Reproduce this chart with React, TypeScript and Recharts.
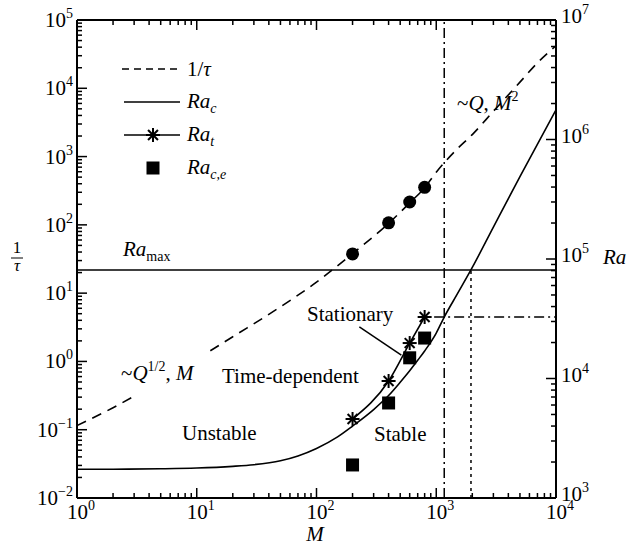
import React from 'react';
import { ComposedChart, Line, Scatter, XAxis, YAxis, ReferenceLine, Customized } from 'recharts';

// ---- data ----
const TAU_M = [1, 2, 3, 5, 10, 20, 50, 100, 200, 400, 600, 800, 1000, 1500, 2000, 3000, 5000, 7000, 10000];
const TAU_V = [0.115, 0.21, 0.31, 0.52, 1.08, 2.3, 6.3, 14.5, 38, 105, 210, 350, 590, 1300, 2100, 4600, 12300, 23600, 42000];

const DOT_M = [200, 400, 600, 800];
const DOT_V = [37.5, 107, 216, 355];

const RAC_M = [1, 2, 5, 10, 20, 30, 50, 70, 100, 150, 200, 300, 400, 500, 600, 700, 800, 1000, 1166, 1500, 2000, 3000, 5000, 10000];
const RAC_V = [1740, 1742, 1755, 1780, 1840, 1900, 2050, 2250, 2600, 3250, 4000, 5500, 7200, 9300, 11600, 14200, 17000, 24000, 32700, 51000, 85000, 185000, 490000, 1770000];

const RAT_M = [200, 400, 600, 800];
const RAT_V = [4580, 9530, 19800, 32700];

const RACE_M = [200, 400, 600, 800];
const RACE_V = [1890, 6240, 14900, 21800];

const RA_MAX = 81000;
const M_DASHDOT = 1166;
const M_DOTTED = 1950;
const RA_DASHDOT = 32700;
const M_DASHDOT_START = 960;
const ARROW = [{ x: 228, y: 27000 }, { x: 511, y: 15700 }];

const X_TICKS = [1, 2, 3, 4, 5, 6, 7, 8, 9, 10, 20, 30, 40, 50, 60, 70, 80, 90, 100, 200, 300, 400, 500, 600, 700, 800, 900, 1000, 2000, 3000, 4000, 5000, 6000, 7000, 8000, 9000, 10000];
const YL_TICKS = [0.01, 0.02, 0.03, 0.04, 0.05, 0.06, 0.07, 0.08, 0.09, 0.1, 0.2, 0.3, 0.4, 0.5, 0.6, 0.7, 0.8, 0.9, 1, 2, 3, 4, 5, 6, 7, 8, 9, 10, 20, 30, 40, 50, 60, 70, 80, 90, 100, 200, 300, 400, 500, 600, 700, 800, 900, 1000, 2000, 3000, 4000, 5000, 6000, 7000, 8000, 9000, 10000, 20000, 30000, 40000, 50000, 60000, 70000, 80000, 90000, 100000];
const YR_TICKS = [1000, 2000, 3000, 4000, 5000, 6000, 7000, 8000, 9000, 10000, 20000, 30000, 40000, 50000, 60000, 70000, 80000, 90000, 100000, 200000, 300000, 400000, 500000, 600000, 700000, 800000, 900000, 1000000, 2000000, 3000000, 4000000, 5000000, 6000000, 7000000, 8000000, 9000000, 10000000];

const zip = (ms: number[], vs: number[]) => ms.map((m, i) => ({ m, v: vs[i] }));
const tauData = zip(TAU_M, TAU_V);
const dotData = zip(DOT_M, DOT_V);
const racData = zip(RAC_M, RAC_V);
const ratData = zip(RAT_M, RAT_V);
const raceData = zip(RACE_M, RACE_V);

const FONT = "'Liberation Serif', 'DejaVu Serif', serif";
const FS = 21;
const SUB = 14;
const TS: React.CSSProperties = { fontFamily: FONT };

const isMajor = (v: number) => Math.abs(Math.log10(v) - Math.round(Math.log10(v))) < 1e-6;
const expText = (v: number) => {
  const e = Math.round(Math.log10(v));
  return e < 0 ? `\u2212${-e}` : `${e}`;
};

const Pow = ({ x, y, v, anchor }: any) => (
  <text x={x} y={y} textAnchor={anchor} style={TS} fontSize={FS} fill="#000">
    10<tspan dy={-9} fontSize={SUB}>{expText(v)}</tspan>
  </text>
);

const BottomTick = (p: any) => {
  const { x, y, payload } = p;
  const maj = isMajor(payload.value);
  return (
    <g>
      <line x1={x} x2={x} y1={y} y2={y - (maj ? 10 : 5)} stroke="#000" strokeWidth={1.5} />
      {maj && <Pow x={x + 4} y={y + 21} v={payload.value} anchor="middle" />}
    </g>
  );
};
const TopTick = (p: any) => {
  const { x, y, payload } = p;
  const maj = isMajor(payload.value);
  return <line x1={x} x2={x} y1={y} y2={y + (maj ? 10 : 5)} stroke="#000" strokeWidth={1.5} />;
};
const LeftTick = (p: any) => {
  const { x, y, payload } = p;
  const maj = isMajor(payload.value);
  return (
    <g>
      <line x1={x} x2={x + (maj ? 10 : 5)} y1={y} y2={y} stroke="#000" strokeWidth={1.5} />
      {maj && <Pow x={x - 4} y={y + 7} v={payload.value} anchor="end" />}
    </g>
  );
};
const RightTick = (p: any) => {
  const { x, y, payload } = p;
  const maj = isMajor(payload.value);
  return (
    <g>
      <line x1={x} x2={x - (maj ? 10 : 5)} y1={y} y2={y} stroke="#000" strokeWidth={1.5} />
      {maj && <Pow x={x + 5} y={y + 3} v={payload.value} anchor="start" />}
    </g>
  );
};

const Star = ({ cx, cy, r = 7 }: any) => {
  const d = r * 0.7071;
  return (
    <g stroke="#000" strokeWidth={2}>
      <line x1={cx - r} y1={cy} x2={cx + r} y2={cy} />
      <line x1={cx} y1={cy - r} x2={cx} y2={cy + r} />
      <line x1={cx - d} y1={cy - d} x2={cx + d} y2={cy + d} />
      <line x1={cx - d} y1={cy + d} x2={cx + d} y2={cy - d} />
    </g>
  );
};

const RaSub = ({ x, y, sub, subItalic = true }: any) => (
  <text x={x} y={y} style={TS} fontSize={FS} fill="#000">
    <tspan fontStyle="italic">Ra</tspan>
    <tspan dy={5} fontSize={SUB} fontStyle={subItalic ? 'italic' : 'normal'}>{sub}</tspan>
  </text>
);

const Annotations = () => (
  <g fill="#000">
    <defs>
      <mask id="tauGap" maskUnits="userSpaceOnUse" x={0} y={0} width={631} height={551}>
        <rect x={0} y={0} width={631} height={551} fill="#fff" />
        <rect x={134} y={352} width={76} height={44} fill="#000" />
      </mask>
    </defs>
    {/* legend */}
    <line x1={122} x2={178} y1={69} y2={69} stroke="#000" strokeWidth={1.5} strokeDasharray="7 5" />
    <text x={187} y={76} fontSize={FS} style={TS}>1/<tspan fontStyle="italic">τ</tspan></text>
    <line x1={124} x2={180} y1={102} y2={102} stroke="#000" strokeWidth={1.5} />
    <RaSub x={187} y={108} sub="c" />
    <line x1={124} x2={180} y1={135} y2={135} stroke="#000" strokeWidth={1.5} />
    <Star cx={153} cy={135} />
    <RaSub x={187} y={141} sub="t" />
    <rect x={146.5} y={161.5} width={13} height={13} fill="#000" />
    <RaSub x={187} y={174} sub="c,e" />

    {/* annotations */}
    <RaSub x={123} y={256} sub="max" subItalic={false} />
    <text x={121} y={380} fontSize={FS} style={TS}>~<tspan fontStyle="italic">Q</tspan><tspan dy={-9} fontSize={SUB}>1/2</tspan><tspan dy={9}>, </tspan><tspan fontStyle="italic">M</tspan></text>
    <text x={222} y={383} fontSize={FS} style={TS}>Time-dependent</text>
    <text x={182} y={440} fontSize={FS} style={TS}>Unstable</text>
    <text x={374} y={441} fontSize={FS} style={TS}>Stable</text>
    <text x={307} y={321} fontSize={FS} style={TS}>Stationary</text>
    <text x={457} y={110} fontSize={FS} style={TS}>~<tspan fontStyle="italic">Q</tspan>, <tspan fontStyle="italic">M</tspan><tspan dy={-9} fontSize={SUB}>2</tspan></text>

    {/* axis titles */}
    <text x={17} y={253} fontSize={17} style={TS} textAnchor="middle">1</text>
    <line x1={11} x2={23} y1={258} y2={258} stroke="#000" strokeWidth={1} />
    <text x={17} y={271} fontSize={17} style={TS} textAnchor="middle" fontStyle="italic">τ</text>
    <text x={603} y={264} fontSize={FS} style={TS} fontStyle="italic">Ra</text>
    <text x={315} y={541} fontSize={FS} style={TS} fontStyle="italic" textAnchor="middle">M</text>
  </g>
);

export default function App() {
  return (
    <div style={{ position: 'absolute', left: 0, top: 0, background: '#fff' }}>
      <ComposedChart width={631} height={551} margin={{ top: 0, right: 0, bottom: 0, left: 0 }}>
        <XAxis xAxisId="b" dataKey="m" type="number" scale="log" domain={[1, 10000]} allowDataOverflow
          ticks={X_TICKS} interval={0} tickSize={0} tickMargin={0} tickLine={false}
          axisLine={{ stroke: '#000', strokeWidth: 2 }} height={53} orientation="bottom" tick={BottomTick} />
        <XAxis xAxisId="t" dataKey="m" type="number" scale="log" domain={[1, 10000]} allowDataOverflow
          ticks={X_TICKS} interval={0} tickSize={0} tickMargin={0} tickLine={false}
          axisLine={{ stroke: '#000', strokeWidth: 2 }} height={20} orientation="top" tick={TopTick} />
        <YAxis yAxisId="left" type="number" scale="log" domain={[0.01, 100000]} allowDataOverflow
          ticks={YL_TICKS} interval={0} tickSize={0} tickMargin={0} tickLine={false}
          axisLine={{ stroke: '#000', strokeWidth: 2 }} width={77} orientation="left" tick={LeftTick} />
        <YAxis yAxisId="right" type="number" scale="log" domain={[1000, 10000000]} allowDataOverflow
          ticks={YR_TICKS} interval={0} tickSize={0} tickMargin={0} tickLine={false}
          axisLine={{ stroke: '#000', strokeWidth: 2 }} width={75} orientation="right" tick={RightTick} />

        <ReferenceLine xAxisId="b" yAxisId="right" y={RA_MAX} stroke="#000" strokeWidth={1.5} />
        <ReferenceLine xAxisId="b" yAxisId="left" x={M_DASHDOT} stroke="#000" strokeWidth={1.5} strokeDasharray="10 4 2 4" />
        <ReferenceLine xAxisId="b" yAxisId="right" segment={[{ x: M_DOTTED, y: 1000 }, { x: M_DOTTED, y: RA_MAX }]} stroke="#000" strokeWidth={1.5} strokeDasharray="3 4" />
        <ReferenceLine xAxisId="b" yAxisId="right" segment={[{ x: M_DASHDOT_START, y: RA_DASHDOT }, { x: 10000, y: RA_DASHDOT }]} stroke="#000" strokeWidth={1.5} strokeDasharray="10 4 2 4" />
        <ReferenceLine xAxisId="b" yAxisId="right" segment={ARROW} stroke="#000" strokeWidth={1.5} />

        <Line xAxisId="b" yAxisId="left" data={tauData} dataKey="v" type="monotone" stroke="#000" strokeWidth={1.6}
          strokeDasharray="10 7" dot={false} isAnimationActive={false} mask="url(#tauGap)" />
        <Scatter xAxisId="b" yAxisId="left" data={dotData} dataKey="v" fill="#000" isAnimationActive={false}
          shape={(p: any) => <circle cx={p.cx} cy={p.cy} r={6.5} fill="#000" />} />
        <Line xAxisId="b" yAxisId="right" data={racData} dataKey="v" type="monotone" stroke="#000" strokeWidth={1.6}
          dot={false} isAnimationActive={false} />
        <Line xAxisId="b" yAxisId="right" data={ratData} dataKey="v" type="monotone" stroke="#000" strokeWidth={1.6}
          dot={(p: any) => <Star key={`s${p.index}`} cx={p.cx} cy={p.cy} />} isAnimationActive={false} />
        <Scatter xAxisId="b" yAxisId="right" data={raceData} dataKey="v" fill="#000" isAnimationActive={false}
          shape={(p: any) => <rect x={p.cx - 6.5} y={p.cy - 6.5} width={13} height={13} fill="#000" />} />

        <Customized component={Annotations} />
      </ComposedChart>
    </div>
  );
}
